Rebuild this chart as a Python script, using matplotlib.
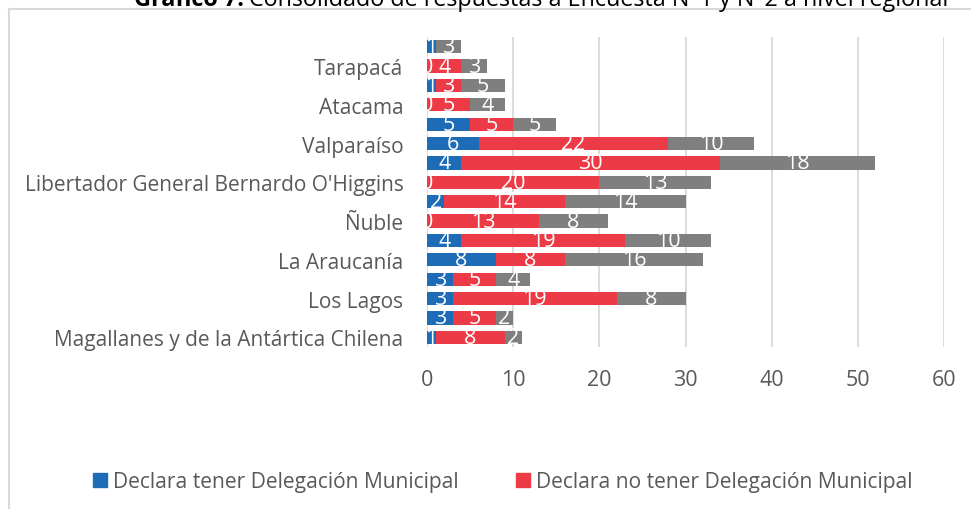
import matplotlib.pyplot as plt
from matplotlib.patches import Patch
from matplotlib.lines import Line2D
import numpy as np

# --- Data (top to bottom, as in the reference) ---
regions = [
    "Arica y Parinacota", "Tarapacá", "Antofagasta", "Atacama", "Coquimbo",
    "Valparaíso", "Metropolitana de Santiago",
    "Libertador General Bernardo O'Higgins", "Maule", "Ñuble", "Biobío",
    "La Araucanía", "Los Ríos", "Los Lagos",
    "Aysén del General Carlos Ibáñez del Campo",
    "Magallanes y de la Antártica Chilena",
]
tiene_delegacion = [1, 0, 1, 0, 5, 6, 4, 0, 2, 0, 4, 8, 3, 3, 3, 1]
no_tiene_delegacion = [0, 4, 3, 5, 5, 22, 30, 20, 14, 13, 19, 8, 5, 19, 5, 8]
sin_respuesta = [3, 3, 5, 4, 5, 10, 18, 13, 14, 8, 10, 16, 4, 8, 2, 2]
x_ticks = [0, 10, 20, 30, 40, 50, 60]

series_names = ["Declara tener Delegación Municipal",
                "Declara no tener Delegación Municipal"]
colors = ["#1E6BB8", "#EC3B47", "#7F7F7F"]
text_color = "#595959"
font = "Open Sans"

W, H = 971, 510
fig = plt.figure(figsize=(W / 100, H / 100), dpi=100)
ax = fig.add_axes([427 / W, 1 - 348 / H, 517 / W, 310 / H])

y = np.arange(len(regions))
left = np.zeros(len(regions))
for i, vals in enumerate([tiene_delegacion, no_tiene_delegacion, sin_respuesta]):
    bars = ax.barh(y, vals, left=left, height=0.69, color=colors[i], zorder=2)
    # Excel shows zero labels only where they do not collide with others
    labels = [str(v) if (v != 0 or i == 0) else "" for v in vals]
    ax.bar_label(bars, labels=labels, label_type="center", color="white",
                 fontsize=15.5, family=font, clip_on=False)
    left = left + np.array(vals)

ax.set_ylim(len(regions) - 0.5, -0.5)
ax.set_xlim(0, 60)
ax.set_xticks(x_ticks)
ax.set_yticks(y[1::2])
ax.set_yticklabels(regions[1::2])
ax.grid(axis="x", color="#D9D9D9", linewidth=1.3, zorder=0)
ax.set_axisbelow(True)
for s in ax.spines.values():
    s.set_visible(False)
ax.tick_params(axis="y", length=0, pad=17, labelsize=15, labelcolor=text_color)
ax.tick_params(axis="x", length=0, pad=16, labelsize=15.5, labelcolor=text_color)
for lab in ax.get_xticklabels() + ax.get_yticklabels():
    lab.set_family(font)

# legend (only the first two series fit in the reference)
handles = [Patch(color=colors[0]), Patch(color=colors[1])]
fig.legend(handles, series_names, loc="center left",
           bbox_to_anchor=(74 / W, 1 - 483 / H), ncol=2, frameon=False,
           handlelength=0.65, handleheight=0.65, handletextpad=0.3,
           columnspacing=2.75, prop={"family": font, "size": 15.1},
           labelcolor=text_color)

# title, partly cut off at the top of the image as in the original
fig.text(244 / W, 1 - 6 / H, "Gráfico 7:", ha="right", va="baseline",
         fontsize=16.8, fontweight="bold", family=font, color="black")
fig.text(249 / W, 1 - 6 / H,
         "Consolidado de respuestas a Encuesta N°1 y N°2 a nivel regional",
         ha="left", va="baseline", fontsize=16.8, family=font, color="black")

# chart area border (left and top edges visible)
fig.add_artist(Line2D([9 / W, 9 / W], [0, 1 - 10 / H], transform=fig.transFigure,
                      color="#D9D9D9", linewidth=1.5))
fig.add_artist(Line2D([9 / W, 1], [1 - 10 / H, 1 - 10 / H], transform=fig.transFigure,
                      color="#D9D9D9", linewidth=1.5))

fig.savefig("out.png", dpi=100)
